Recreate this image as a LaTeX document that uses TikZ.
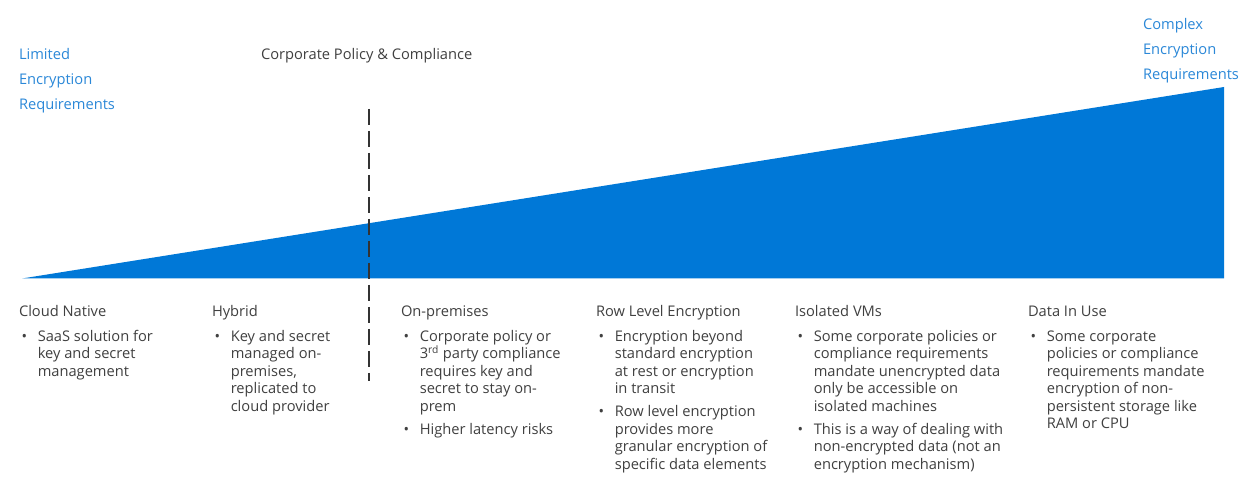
\documentclass[tikz,border=0pt]{standalone}
\usepackage{fontspec}
\setmainfont{Open Sans}
\definecolor{trifill}{HTML}{0078D7}
\definecolor{lblue}{HTML}{2B88D8}
\definecolor{txtgrey}{HTML}{404040}
\definecolor{dashgrey}{HTML}{333333}
\newcommand\mybul[1]{\makebox[12.2pt][l]{\textbullet}\parbox[t]{200pt}{\raggedright #1}}
\tikzset{
  lbl/.style={anchor=base west, inner sep=0pt, outer sep=0pt, text=txtgrey,
    font=\fontsize{11pt}{13.125pt}\selectfont},
  bluelbl/.style={lbl, text=lblue},
  bulitem/.style={lbl},
  divider/.style={draw=dashgrey, line width=1.5pt, dash pattern=on 11.8pt off 4.7pt},
}
\begin{document}
\begin{tikzpicture}[x=0.75pt,y=-0.75pt]
\useasboundingbox (0,0) rectangle (1257,491);
\fill[white] (0,0) rectangle (1257,491);
% wedge
\coordinate (tip) at (22,278.5);
\coordinate (tr) at (1224,87);
\coordinate (br) at (1224,278.5);
\fill[trifill] (tip) -- (tr) -- (br) -- cycle;
% divider
\coordinate (dtop) at (369,109);
\coordinate (dbot) at (369,381);
\draw[divider] (dtop) -- (dbot);
% top labels
\node[bluelbl] (limited) at (19,60) {\parbox[t]{150pt}{\fontsize{11pt}{18.75pt}\selectfont Limited\\Encryption\\Requirements}};
\node[bluelbl] (complex) at (1143,30) {\parbox[t]{150pt}{\fontsize{11pt}{18.75pt}\selectfont Complex\\Encryption\\Requirements}};
\node[lbl] (corp) at (261,60) {Corporate Policy \& Compliance};
% columns
\node[lbl] (h1) at (19,317) {Cloud Native};
\node[bulitem] (b1a) at (21.5,341.5) {\mybul{SaaS solution for\\key and secret\\management}};
\node[lbl] (h2) at (212,317) {Hybrid};
\node[bulitem] (b2a) at (214.5,341.5) {\mybul{Key and secret\\managed on-\\premises,\\replicated to\\cloud provider}};
\node[lbl] (h3) at (401,317) {On-premises};
\node[bulitem] (b3a) at (403.5,341.5) {\mybul{Corporate policy or\\3\textsuperscript{rd} party compliance\\requires key and\\secret to stay on-\\prem}};
\node[bulitem] (b3b) at (403.5,434.5) {\mybul{Higher latency risks}};
\node[lbl] (h4) at (596,317) {Row Level Encryption};
\node[bulitem] (b4a) at (598.5,341.5) {\mybul{Encryption beyond\\standard encryption\\at rest or encryption\\in transit}};
\node[bulitem] (b4b) at (598.5,417) {\mybul{Row level encryption\\provides more\\granular encryption of\\specific data elements}};
\node[lbl] (h5) at (795,317) {Isolated VMs};
\node[bulitem] (b5a) at (797.5,341.5) {\mybul{Some corporate policies or\\compliance requirements\\mandate unencrypted data\\only be accessible on\\isolated machines}};
\node[bulitem] (b5b) at (797.5,434.5) {\mybul{This is a way of dealing with\\non-encrypted data (not an\\encryption mechanism)}};
\node[lbl] (h6) at (1028,317) {Data In Use};
\node[bulitem] (b6a) at (1030.5,341.5) {\mybul{Some corporate\\policies or compliance\\requirements mandate\\encryption of non-\\persistent storage like\\RAM or CPU}};
\end{tikzpicture}
\end{document}
